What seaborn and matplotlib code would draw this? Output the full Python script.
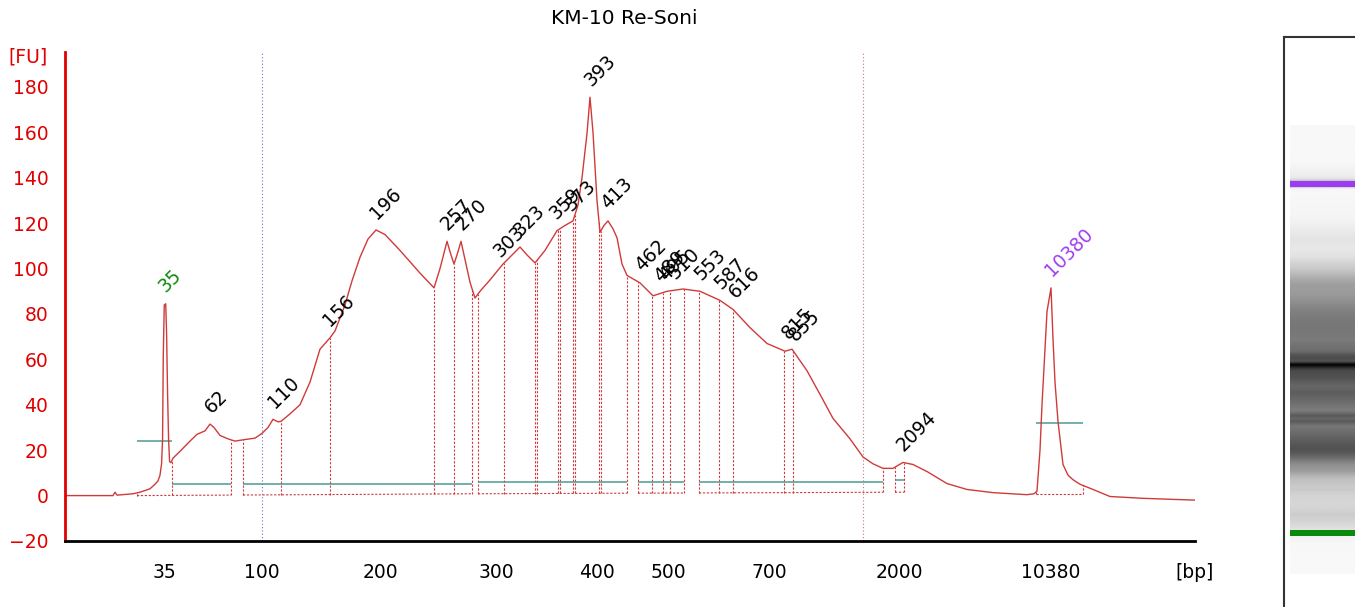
import numpy as np
import pandas as pd
import matplotlib.pyplot as plt
import seaborn as sns

title = "KM-10 Re-Soni"

# electropherogram trace: migration time (s) vs fluorescence (FU)
time_s = [36.07, 38.52, 39.43, 39.57, 39.71, 40.27, 40.83, 41.32, 42.02, 42.37,
          42.58, 42.72, 42.83, 42.9, 42.95, 43.02, 43.12, 43.18, 43.25, 43.32,
          43.39, 43.49, 43.63, 44.12, 44.82, 45.31, 45.87, 46.22, 46.5, 46.92,
          47.48, 47.97, 48.67, 49.37, 49.86, 50.28, 50.63, 50.98, 51.19, 51.82,
          52.52, 53.22, 53.92, 54.62, 54.97, 55.67, 56.16, 56.72, 57.28, 57.84,
          58.47, 59.52, 60.92, 61.9, 62.32, 62.81, 63.09, 63.3, 63.51, 63.79,
          64.07, 64.42, 64.77, 65.12, 65.82, 66.73, 67.36, 67.92, 68.41, 68.97,
          69.67, 70.51, 71.07, 71.63, 71.98, 72.26, 72.61, 72.82, 73.03, 73.31,
          73.52, 73.8, 74.08, 74.43, 74.71, 75.06, 75.41, 76.32, 77.23, 78.21,
          79.33, 80.52, 81.92, 82.83, 84.02, 85.21, 86.47, 86.96, 88.01, 88.92,
          89.83, 91.02, 91.93, 92.63, 93.33, 94.03, 94.73, 95.43, 96.41, 97.81,
          99.21, 101.03, 103.41, 103.9, 104.11, 104.32, 104.46, 104.67, 104.81, 105.09,
          105.23, 105.37, 105.58, 105.93, 106.28, 106.63, 107.12, 108.03, 109.22, 111.53,
          115.17]
fu = [0, 0, 0, 1.5, 0.2, 0.5, 0.8, 1.5, 3, 5,
      6.5, 9, 14, 25, 62, 84, 84.5, 72, 45, 25,
      15, 14.5, 16.5, 19.5, 24, 27, 28.5, 31.5, 30, 26.5,
      25, 24, 24.7, 25.3, 27.4, 30, 33.6, 32.5, 32.7, 36,
      40, 50, 64.5, 69.5, 72.5, 84, 94.6, 105, 113, 117,
      115, 108, 98, 91.5, 100, 112, 106, 102, 106, 112,
      104, 94, 87, 90, 95, 102, 106, 109.5, 106, 102.5,
      108, 116.7, 119, 121, 128, 140, 159.5, 175.5, 160, 130,
      116, 119, 121, 117.5, 113.6, 102, 97, 93.7, 88, 90,
      91, 90, 86, 82, 74, 67, 63.6, 64.5, 55, 44.6,
      34, 25, 17, 14, 12, 12, 14.6, 13.7, 10.6, 5.3,
      2.7, 1.3, 0.4, 0.8, 2, 20, 40, 65, 81, 91.5,
      69, 50, 32.7, 13.7, 9, 7, 5, 2.7, -0.4, -1.2,
      -2]

# ladder sizes and their migration times
ladder_bp = [35, 50, 100, 150, 200, 300, 400, 500, 600, 700, 1000, 2000, 3000, 7000, 10380]
ladder_s = [43.0, 45.1, 49.86, 54.06, 58.12, 66.24, 73.31, 78.28, 82.48, 85.35,
            88.78, 94.45, 97.25, 101.8, 105.09]
shown_bp = [35, 100, 200, 300, 400, 500, 700, 2000, 10380]

# called peaks (bp)
peak_bp = [35, 62, 110, 156, 196, 257, 270, 303, 323, 359, 373, 393, 413,
           462, 489, 495, 510, 553, 587, 616, 815, 855, 2094, 10380]
lower_marker = 35
upper_marker = 10380

# peak boundaries (s)
bounds_s = [41.11, 43.56, 47.69, 48.53, 51.19, 54.62, 61.9, 63.3, 64.56, 64.98,
            66.8, 68.97, 69.11, 70.58, 70.72, 71.63, 71.77, 73.45, 73.59, 75.41,
            76.18, 77.16, 77.93, 78.42, 79.4, 80.45, 81.85, 82.83, 86.4, 87.03,
            93.33, 94.17, 94.8, 104.04, 107.33]
# baseline segments and their level lines
seg_start = [41.11, 43.56, 48.53, 64.98, 76.18, 80.45, 94.17, 104.04]
seg_end = [43.56, 47.69, 64.56, 75.41, 79.4, 93.33, 94.8, 107.33]
seg_level = [24.0, 5.3, 5.3, 6.0, 6.0, 6.0, 7.0, 31.8]
base_s = [41.11, 64.56, 94.8, 104.04, 107.33]
base_fu = [0, 0.8, 1.5, 0.5, 0.5]

# smear region (bp)
region_bp = [100, 1550]

trace = pd.DataFrame({"time_s": time_s, "fu": fu})
t_arr = np.array(time_s)
fu_arr = np.array(fu)

red = "#e00000"
trace_red = "#d03a3a"
teal = "#4f9a90"
fs = 13.5

sns.set_style("white")
plt.rcParams["font.family"] = ["DejaVu Sans"]
plt.rcParams["text.color"] = "black"

fig = plt.figure(figsize=(13.55, 6.07), dpi=100)
ax = fig.add_axes([65 / 1355, 66 / 607, 1130 / 1355, 489 / 607])

# smear region markers
r0, r1 = np.interp(region_bp, ladder_bp, ladder_s)
ax.axvline(r0, color="#6f6fd0", ls=(0, (1, 2)), lw=0.8)
ax.axvline(r1, color="#c87878", ls=(0, (1, 2)), lw=0.8)

# peak boundaries
tops = np.interp(bounds_s, time_s, fu)
bases = np.interp(bounds_s, base_s, base_fu)
ax.vlines(bounds_s, bases, tops, colors=trace_red, linestyles=(0, (2, 1.5)), lw=0.8)
for s0, s1 in zip(seg_start, seg_end):
    ax.plot([s0, s1], np.interp([s0, s1], base_s, base_fu), color=trace_red,
            ls=(0, (2, 1.5)), lw=0.8)
ax.hlines(seg_level, seg_start, seg_end, colors=teal, lw=1.1)

sns.lineplot(data=trace, x="time_s", y="fu", ax=ax, color=trace_red, lw=1.0)

# peak labels, placed at the local top of the trace
for bp in peak_bp:
    t = np.interp(bp, ladder_bp, ladder_s)
    y = np.interp(t, time_s, fu)
    near = np.abs(t_arr - t) < 0.15
    if near.any():
        y = max(y, fu_arr[near].max())
    col = "black"
    if bp == lower_marker:
        col = "#138a13"
    elif bp == upper_marker:
        col = "#a040f0"
    ax.annotate(str(bp), (t, y), xytext=(3, 5.5), textcoords="offset points",
                rotation=45, rotation_mode="anchor", ha="left", va="bottom",
                fontsize=fs, color=col)

ax.set_xlim(36.07, 115.17)
ax.set_ylim(-20, 195.4)
ax.set_xticks(ladder_s)
ax.set_xticklabels([str(b) if b in shown_bp else "" for b in ladder_bp])
ax.set_yticks(range(-20, 181, 20))
ax.set_xlabel("")
ax.set_ylabel("")
for s in ["top", "right"]:
    ax.spines[s].set_visible(False)
ax.spines["left"].set_color(red)
ax.spines["left"].set_linewidth(2)
ax.spines["bottom"].set_color("black")
ax.spines["bottom"].set_linewidth(2)
ax.tick_params(axis="y", colors=red, length=8, width=1.6, labelsize=fs, pad=4)
ax.tick_params(axis="x", colors="black", length=9, width=1.6, labelsize=fs, pad=7)
ax.set_facecolor("white")

fig.text(28 / 1355, 1 - 57 / 607, "[FU]", color=red, ha="center", va="center", fontsize=fs)
fig.text(1195 / 1355, 1 - 572 / 607, "[bp]", color="black", ha="center", va="center", fontsize=fs)
fig.text(624 / 1355, 1 - 18 / 607, title, color="black", ha="center", va="center", fontsize=14.5)

# gel-like lane built from the same trace
gax = fig.add_axes([1284 / 1355, 0, 71 / 1355, 570 / 607])
lane_t = np.linspace(35.7, 115.4, 800)
lane = np.clip(np.interp(lane_t, time_s, fu), 0, None)
gax.imshow(np.tile(lane[:, None], (1, 8)), extent=[0.085, 1.0, 35.7, 115.4],
           origin="lower", aspect="auto", cmap="gray_r", vmin=-5, vmax=175,
           interpolation="bilinear")
up_t = np.interp(upper_marker, ladder_bp, ladder_s)
lo_t = np.interp(lower_marker, ladder_bp, ladder_s)
gax.fill_between([0.085, 1.0], up_t - 0.5, up_t + 0.5, color="#9b3cf0", lw=0)
gax.fill_between([0.085, 1.0], lo_t - 0.5, lo_t + 0.5, color="#0a8a0a", lw=0)
gax.set_xlim(0, 1)
gax.set_ylim(29.84, 131.24)
gax.set_xticks([])
gax.set_yticks([])
for s in ["bottom", "right"]:
    gax.spines[s].set_visible(False)
for s in ["left", "top"]:
    gax.spines[s].set_color("#333333")
    gax.spines[s].set_linewidth(1.5)

fig.savefig("out.png", dpi=100)
